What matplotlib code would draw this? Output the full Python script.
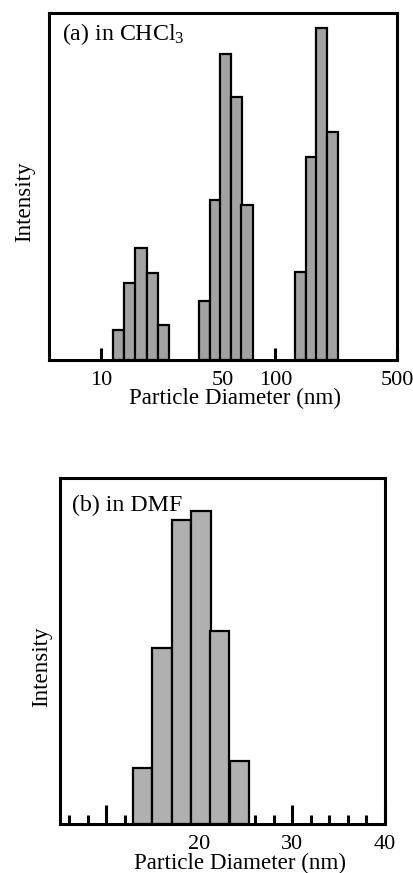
import numpy as np
import matplotlib
matplotlib.use('Agg')
import matplotlib.pyplot as plt

plt.rcParams['font.family'] = ['Liberation Serif', 'DejaVu Serif']
plt.rcParams['mathtext.fontset'] = 'custom'
plt.rcParams['mathtext.rm'] = 'Liberation Serif'
plt.rcParams['mathtext.it'] = 'Liberation Serif'

# (a) in CHCl3, log-spaced size bins (nm) and relative intensity
chcl3_diam = [12.5, 14.6, 16.9, 19.6, 22.7,
              39.3, 45.3, 51.9, 59.7, 68.7,
              139, 160.5, 185, 213]
chcl3_int = [8.7, 22.1, 32.2, 25.2, 10.1,
             17.0, 46.1, 88.3, 75.7, 44.7,
             25.5, 58.4, 95.8, 65.6]
chcl3_ticks = [10, 50, 100, 500]

# (b) in DMF, linear bins (nm)
dmf_diam = [13.9, 16.0, 18.1, 20.2, 22.2, 24.3]
dmf_int = [16.1, 50.9, 88.0, 90.5, 55.9, 18.3]
dmf_major = [10, 20, 30, 40]
dmf_labels = ['', '20', '30', '40']
dmf_minor = [6, 8, 12, 14, 16, 18, 22, 24, 26, 28, 32, 34, 36, 38]

fs = 16.6
fig = plt.figure(figsize=(4.13, 8.73), dpi=100)

# ---- panel (a)
ax1 = fig.add_axes([49/413, 1-360/873, 348/413, 347/873])
ratio = 1.16
d = np.array(chcl3_diam)
left = d / np.sqrt(ratio)
right = d * np.sqrt(ratio)
ax1.bar(left, chcl3_int, width=right - left, align='edge', color='#a2a2a2',
        edgecolor='black', linewidth=1.6, zorder=2)
ax1.set_xscale('log')
ax1.set_xlim(5, 500)
ax1.set_ylim(0, 100)
ax1.set_xticks(chcl3_ticks)
ax1.set_xticklabels([str(t) for t in chcl3_ticks])
ax1.xaxis.set_minor_locator(matplotlib.ticker.NullLocator())
ax1.set_yticks([])
ax1.tick_params(axis='x', direction='in', length=9, width=2.2, pad=8,
                labelsize=16)
ax1.text(0.037, 0.94, '(a) in CHCl$_3$', transform=ax1.transAxes,
         fontsize=fs + 0.6, va='center', ha='left')
ax1.set_xlabel('Particle Diameter (nm)', fontsize=fs)
ax1.xaxis.set_label_coords(0.534, -0.112)
ax1.xaxis.label.set_va('center')
ax1.set_ylabel('Intensity', fontsize=fs)
ax1.yaxis.set_label_coords(-0.069, 0.455)
ax1.yaxis.label.set_va('center')

# ---- panel (b)
ax2 = fig.add_axes([60/413, 1-824/873, 325/413, 346/873])
ax2.bar(dmf_diam, dmf_int, width=2.08, color='#b0b0b0',
        edgecolor='black', linewidth=1.6, zorder=2)
ax2.set_xlim(5, 40)
ax2.set_ylim(0, 100)
ax2.set_xticks(dmf_major)
ax2.set_xticklabels(dmf_labels)
ax2.set_xticks(dmf_minor, minor=True)
ax2.set_yticks([])
ax2.tick_params(axis='x', which='major', direction='in', length=14,
                width=2.2, pad=8, labelsize=16)
ax2.tick_params(axis='x', which='minor', direction='in', length=6.5,
                width=2.2)
ax2.text(0.037, 0.922, '(b) in DMF', transform=ax2.transAxes,
         fontsize=fs + 0.6, va='center', ha='left')
ax2.set_xlabel('Particle Diameter (nm)', fontsize=fs)
ax2.xaxis.set_label_coords(0.554, -0.115)
ax2.xaxis.label.set_va('center')
ax2.set_ylabel('Intensity', fontsize=fs)
ax2.yaxis.set_label_coords(-0.055, 0.455)
ax2.yaxis.label.set_va('center')

for ax in (ax1, ax2):
    for s in ax.spines.values():
        s.set_linewidth(2.2)
        s.set_zorder(3)

fig.savefig('out.png', dpi=100)
